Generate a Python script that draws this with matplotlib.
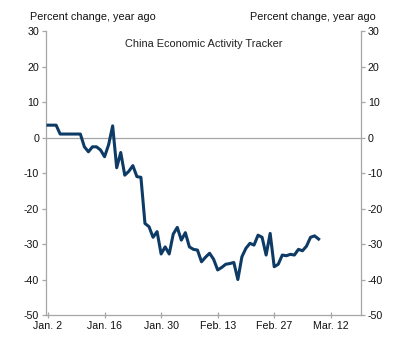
import numpy as np
import pandas as pd
import matplotlib
matplotlib.use('Agg')
import matplotlib.pyplot as plt

plt.rcParams['font.family'] = ['Liberation Sans', 'DejaVu Sans']

# daily tracker readings, starting Jan. 2
start_date = '2020-01-02'
tracker = [3.5, 3.5, 3.5, 1.0, 1.0, 1.0, 1.0, 1.0, 1.0, -2.6,
           -4.0, -2.6, -2.6, -3.5, -5.4, -2.0, 3.3, -8.5, -4.2, -10.6,
           -9.5, -7.9, -11.0, -11.2, -24.2, -25.1, -28.1, -26.5, -32.8, -30.8,
           -32.8, -27.2, -25.3, -28.9, -26.8, -30.8, -31.5, -31.7, -35.0, -33.7,
           -32.6, -34.3, -37.3, -36.6, -35.7, -35.5, -35.2, -40.0, -33.6, -31.2,
           -29.8, -30.3, -27.5, -28.1, -33.1, -27.0, -36.4, -35.7, -33.1, -33.3,
           -32.9, -33.1, -31.5, -31.9, -30.6, -28.1, -27.7, -28.6]
tick_dates = ['2020-01-02', '2020-01-16', '2020-01-30', '2020-02-13', '2020-02-27', '2020-03-12']
tick_labels = ['Jan. 2', 'Jan. 16', 'Jan. 30', 'Feb. 13', 'Feb. 27', 'Mar. 12']
y_ticks = [30, 20, 10, 0, -10, -20, -30, -40, -50]

dates = pd.date_range(start_date, periods=len(tracker), freq='D')

fig = plt.figure(figsize=(3.95, 3.46), dpi=100)
ax = fig.add_axes([0.1165, 0.0896, 0.7975, 0.8204])

grey = '#a6a6a6'
ax.axhline(0, color=grey, lw=0.9, zorder=1)
ax.plot(dates, tracker, color='#0d3b66', lw=2.2, zorder=3, solid_joinstyle='round')

ax.set_ylim(-50, 30)
ax.set_xlim(pd.Timestamp('2020-01-01 12:00'), pd.Timestamp('2020-03-19 12:00'))
ax.set_yticks(y_ticks)
ax.set_yticklabels([str(v) for v in y_ticks])
ax.set_xticks(pd.to_datetime(tick_dates))
ax.set_xticklabels(tick_labels)

for side in ['left', 'right', 'bottom']:
    ax.spines[side].set_color(grey)
    ax.spines[side].set_linewidth(0.9)
ax.spines['top'].set_visible(False)

ax.tick_params(axis='y', direction='out', length=3, color=grey, width=0.9,
               labelsize=7.7, labelcolor='#111111', left=True, right=True,
               labelleft=True, labelright=True, pad=2)
ax.tick_params(axis='x', direction='inout', length=5, color=grey, width=0.9,
               labelsize=7.7, labelcolor='#111111', pad=2)

ax.text(0.5, 0.955, 'China Economic Activity Tracker', transform=ax.transAxes,
        ha='center', va='center', fontsize=7.9, color='#222222')
fig.text(30 / 395, 1 - 17 / 346, 'Percent change, year ago', ha='left', va='center',
         fontsize=7.8, color='#111111')
fig.text(376 / 395, 1 - 17 / 346, 'Percent change, year ago', ha='right', va='center',
         fontsize=7.8, color='#111111')

fig.savefig('out.png', dpi=100)
